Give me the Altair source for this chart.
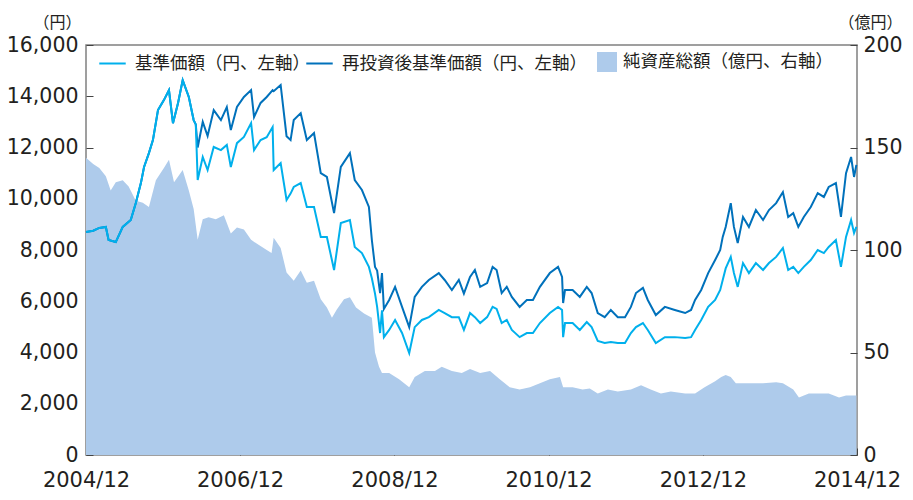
import altair as alt
import pandas as pd

# ---- data ----
line_dates = [
    "2004-12-01", "2005-01-04", "2005-02-02", "2005-03-05", "2005-03-18", "2005-04-21", "2005-05-24",
    "2005-07-01", "2005-07-25", "2005-08-18", "2005-09-02", "2005-09-25", "2005-10-14", "2005-11-07",
    "2005-12-05", "2005-12-29", "2006-01-17", "2006-02-10", "2006-03-04", "2006-04-02", "2006-04-25",
    "2006-05-05", "2006-05-14", "2006-06-07", "2006-06-30", "2006-07-29", "2006-09-01", "2006-09-29",
    "2006-10-18", "2006-11-16", "2006-12-19", "2007-01-22", "2007-02-05", "2007-03-08", "2007-04-06",
    "2007-05-04", "2007-05-09", "2007-06-11", "2007-07-09", "2007-07-28", "2007-08-12", "2007-09-14",
    "2007-10-13", "2007-11-16", "2007-12-18", "2008-01-16", "2008-02-19", "2008-03-22", "2008-05-04",
    "2008-05-27", "2008-06-30", "2008-08-02", "2008-08-16", "2008-08-31", "2008-09-10", "2008-09-24",
    "2008-10-03", "2008-10-12", "2008-11-06", "2008-12-04", "2009-01-06", "2009-02-09", "2009-03-07",
    "2009-04-10", "2009-05-13", "2009-06-29", "2009-07-27", "2009-08-30", "2009-10-02", "2009-10-26",
    "2009-11-24", "2009-12-17", "2010-01-11", "2010-02-13", "2010-03-11", "2010-03-30", "2010-04-23",
    "2010-05-17", "2010-06-10", "2010-07-17", "2010-08-20", "2010-09-18", "2010-10-21", "2010-12-07",
    "2011-01-15", "2011-02-03", "2011-02-08", "2011-02-17", "2011-03-25", "2011-04-28", "2011-05-31",
    "2011-06-23", "2011-07-22", "2011-08-24", "2011-09-22", "2011-10-25", "2011-11-28", "2011-12-26",
    "2012-01-19", "2012-02-21", "2012-03-15", "2012-04-22", "2012-06-04", "2012-07-21", "2012-09-08",
    "2012-10-06", "2012-10-25", "2012-11-23", "2012-12-26", "2013-01-28", "2013-02-21", "2013-03-05",
    "2013-03-19", "2013-04-12", "2013-04-27", "2013-05-15", "2013-06-09", "2013-07-07", "2013-08-09",
    "2013-09-12", "2013-10-10", "2013-11-13", "2013-12-15", "2014-01-09", "2014-02-02", "2014-02-26",
    "2014-03-24", "2014-04-26", "2014-05-29", "2014-06-27", "2014-07-20", "2014-08-23", "2014-09-16",
    "2014-10-10", "2014-11-03", "2014-11-17", "2014-11-28",
]

nav = [
    8700, 8750, 8860, 8900, 8390, 8310, 8900,
    9170, 9830, 10610, 11240, 11780, 12290, 13460,
    13850, 14240, 12950, 13740, 14630, 13970, 13070,
    12900, 10730, 11630, 11120, 12020, 11900, 12100,
    11240, 12170, 12410, 12950, 11900, 12290, 12400,
    12800, 11120, 11390, 9950, 10200, 10460, 10610,
    9680, 9680, 8510, 8510, 7220, 9050, 9170,
    8120, 7880, 7340, 6900, 6300, 5780, 4760,
    5650, 4600, 4880, 5270, 4760, 3980, 4990,
    5270, 5380, 5660, 5540, 5380, 5380, 4880,
    5540, 5380, 5150, 5380, 5780, 5700, 5150,
    5270, 4880, 4600, 4760, 4760, 5150, 5540,
    5780, 5660, 4600, 5150, 5150, 4880, 5190,
    4990, 4450, 4370, 4410, 4370, 4370, 4760,
    4990, 5150, 4880, 4370, 4600, 4600, 4570,
    4600, 4880, 5270, 5780, 6050, 6440, 6830,
    7280, 7730, 7100, 6560, 7490, 7100, 7490,
    7220, 7490, 7730, 8080, 7220, 7340, 7100,
    7340, 7610, 8000, 7880, 8120, 8390, 7340,
    8510, 9170, 8660, 8900,
]

nav_reinvested = [
    8700, 8750, 8860, 8900, 8390, 8310, 8900,
    9170, 9830, 10610, 11240, 11780, 12290, 13460,
    13850, 14240, 12950, 13740, 14630, 13970, 13070,
    12900, 12000, 13000, 12450, 13460, 13070, 13580,
    12680, 13580, 13970, 14240, 13190, 13740, 13970,
    14240, 14200, 14440, 12440, 12290, 13070, 13340,
    12290, 12560, 11000, 10850, 9440, 11240, 11780,
    10730, 10340, 9680, 8390, 7340, 7200, 6320,
    7100, 5700, 6050, 6560, 5780, 4990, 6170,
    6560, 6830, 7100, 6830, 6440, 6830, 6300,
    6950, 7220, 6560, 6710, 7340, 7220, 6320,
    6560, 6170, 5780, 6050, 6050, 6560, 7100,
    7340, 6950, 5930, 6440, 6440, 6170, 6560,
    6320, 5540, 5380, 5660, 5380, 5380, 5780,
    6320, 6520, 6050, 5460, 5780, 5660, 5540,
    5660, 6050, 6440, 7100, 7610, 8000, 8510,
    8900, 9830, 8900, 8270, 9290, 8900, 9560,
    9170, 9560, 9830, 10260, 9290, 9440, 8900,
    9290, 9680, 10220, 10070, 10460, 10610, 9290,
    11000, 11630, 10850, 11320,
]

asset_dates = [
    "2004-12-01", "2005-01-04", "2005-02-02", "2005-03-05", "2005-03-28", "2005-04-21", "2005-05-24",
    "2005-06-21", "2005-07-25", "2005-08-27", "2005-09-25", "2005-10-28", "2005-12-05", "2005-12-29",
    "2006-01-22", "2006-03-04", "2006-04-02", "2006-04-25", "2006-05-14", "2006-06-07", "2006-07-05",
    "2006-08-08", "2006-09-15", "2006-10-18", "2006-11-16", "2006-12-19", "2007-01-22", "2007-02-19",
    "2007-04-06", "2007-04-29", "2007-05-09", "2007-06-11", "2007-07-09", "2007-08-12", "2007-09-14",
    "2007-10-13", "2007-11-16", "2007-12-18", "2008-01-16", "2008-02-09", "2008-03-03", "2008-04-06",
    "2008-05-04", "2008-06-02", "2008-07-10", "2008-08-16", "2008-08-31", "2008-09-19", "2008-10-03",
    "2008-11-06", "2008-12-23", "2009-02-09", "2009-03-07", "2009-04-24", "2009-06-11", "2009-07-13",
    "2009-08-30", "2009-10-16", "2009-11-24", "2010-01-11", "2010-02-27", "2010-04-14", "2010-05-31",
    "2010-07-17", "2010-09-04", "2010-10-21", "2010-12-07", "2011-01-24", "2011-02-08", "2011-03-25",
    "2011-05-11", "2011-06-14", "2011-07-22", "2011-09-08", "2011-10-25", "2011-12-26", "2012-02-12",
    "2012-03-29", "2012-05-16", "2012-07-02", "2012-09-08", "2012-10-25", "2012-12-09", "2013-01-28",
    "2013-02-26", "2013-03-19", "2013-04-12", "2013-05-06", "2013-06-09", "2013-07-25", "2013-09-12",
    "2013-11-13", "2013-12-15", "2014-02-02", "2014-03-01", "2014-04-17", "2014-06-03", "2014-07-20",
    "2014-09-07", "2014-10-10", "2014-11-28",
]

net_assets = [
    145, 142, 140, 136, 129, 133, 134,
    131, 124, 123, 121, 134, 140, 144,
    133, 139, 129, 120, 105, 115, 116,
    115, 117, 108, 111, 110, 105, 103,
    100, 98.5, 106, 101, 89, 85, 90,
    84, 85, 76, 72, 67, 71, 76,
    77, 72, 69, 67, 50, 43, 40,
    40, 37, 33, 38, 41, 41, 43,
    41, 40, 42, 40, 41, 37, 33,
    32, 33, 35, 37, 38, 33, 33,
    32, 32.5, 30, 32, 31, 32, 34,
    32, 30, 31, 30, 30, 33, 36,
    38, 39, 38, 35, 35, 35, 35,
    35.5, 35, 32, 28, 30, 30, 30,
    28, 29, 29,
]

LBL_NAV = "基準価額（円、左軸）"
LBL_RE = "再投資後基準価額（円、左軸）"
LBL_ASSET = "純資産総額（億円、右軸）"

left_ticks = [0, 2000, 4000, 6000, 8000, 10000, 12000, 14000, 16000]
right_ticks = [0, 50, 100, 150, 200]
x_tick_years = [2004, 2006, 2008, 2010, 2012, 2014]

C_NAV = "#00b0ec"
C_RE = "#0071bb"
C_AREA = "#aecbeb"
TXT = "#231f20"
FONT = "Noto Sans CJK JP"
NUM_FONT = "DejaVu Sans"

df_nav = pd.DataFrame({"date": line_dates, "value": nav, "series": [LBL_NAV] * len(line_dates)})
df_re = pd.DataFrame({"date": line_dates, "value": nav_reinvested, "series": [LBL_RE] * len(line_dates)})
df_area = pd.DataFrame({"date": asset_dates, "value": net_assets, "series": [LBL_ASSET] * len(asset_dates)})

x_enc = alt.X(
    "date:T",
    scale=alt.Scale(
        type="utc",
        domain=[alt.DateTime(year=2004, month=12, date=1, utc=True),
                alt.DateTime(year=2014, month=12, date=1, utc=True)],
    ),
    axis=alt.Axis(
        values=[alt.DateTime(year=y, month=12, date=1, utc=True) for y in x_tick_years],
        labelExpr="utcFormat(datum.value, '%Y/%m')",
        title=None, offset=-7, tickSize=7, domain=False, grid=False,
        labelPadding=14, labelFlush=False, labelFontSize=21, labelFont=NUM_FONT,
    ),
)

y_left = alt.Y(
    "value:Q",
    scale=alt.Scale(domain=[0, 16000], nice=False),
    axis=alt.Axis(
        orient="left", values=left_ticks, format=",d", title="（円）",
        titleAngle=0, titleX=-36, titleY=-23, titleAlign="center", titleBaseline="middle",
        offset=-7, tickSize=7, domain=False, grid=False, labelPadding=8, labelFlush=False,
        labelFontSize=20.5, labelFont=NUM_FONT,
    ),
)

y_right = alt.Y(
    "value:Q",
    scale=alt.Scale(domain=[0, 200], nice=False),
    axis=alt.Axis(
        orient="right", values=right_ticks, format="d", title="（億円）",
        titleAngle=0, titleX=52, titleY=-23, titleAlign="right", titleBaseline="middle",
        offset=-7, tickSize=7, domain=False, grid=False, labelPadding=6, labelFlush=False,
        labelFontSize=20.5, labelFont=NUM_FONT,
    ),
)


def line_legend(x_pos):
    return alt.Legend(
        title=None, orient="none", legendX=x_pos, legendY=4, direction="horizontal",
        symbolType="stroke", symbolSize=700, symbolStrokeWidth=2,
        labelFontSize=17.5, labelFont=FONT, labelColor=TXT, labelLimit=400,
        labelOffset=8, padding=0,
    )


area = alt.Chart(df_area).mark_area(opacity=1, interpolate="linear").encode(
    x=x_enc,
    y=y_right,
    fill=alt.Fill(
        "series:N",
        scale=alt.Scale(domain=[LBL_ASSET], range=[C_AREA]),
        legend=alt.Legend(
            title=None, orient="none", legendX=511, legendY=7, direction="horizontal",
            symbolType="square", symbolSize=400, symbolStrokeWidth=0, symbolOpacity=1,
            labelFontSize=17.5, labelFont=FONT, labelColor=TXT, labelLimit=400,
            labelOffset=6, padding=0,
        ),
    ),
)

dark = alt.Chart(df_re).mark_line(strokeWidth=2).encode(
    x=x_enc, y=y_left,
    color=alt.Color("series:N", scale=alt.Scale(domain=[LBL_RE], range=[C_RE]),
                    legend=line_legend(219)),
)

light = alt.Chart(df_nav).mark_line(strokeWidth=2).encode(
    x=x_enc, y=y_left,
    stroke=alt.Stroke("series:N", scale=alt.Scale(domain=[LBL_NAV], range=[C_NAV]),
                      legend=line_legend(12)),
)

chart = alt.layer(area, alt.layer(dark, light)).resolve_scale(
    y="independent"
).properties(
    width=771, height=410,
    padding={"left": 78, "top": 37, "right": 48, "bottom": 37},
    autosize=alt.AutoSizeParams(type="none"),
).configure_view(
    stroke="#808080", strokeWidth=1.5
).configure_axis(
    labelFont=FONT, titleFont=FONT, labelColor=TXT, titleColor=TXT,
    tickColor="#444444", tickWidth=1, titleFontSize=16, titleFontWeight="normal",
)

chart.save("out.html", embed_options={"renderer": "svg", "actions": False})
